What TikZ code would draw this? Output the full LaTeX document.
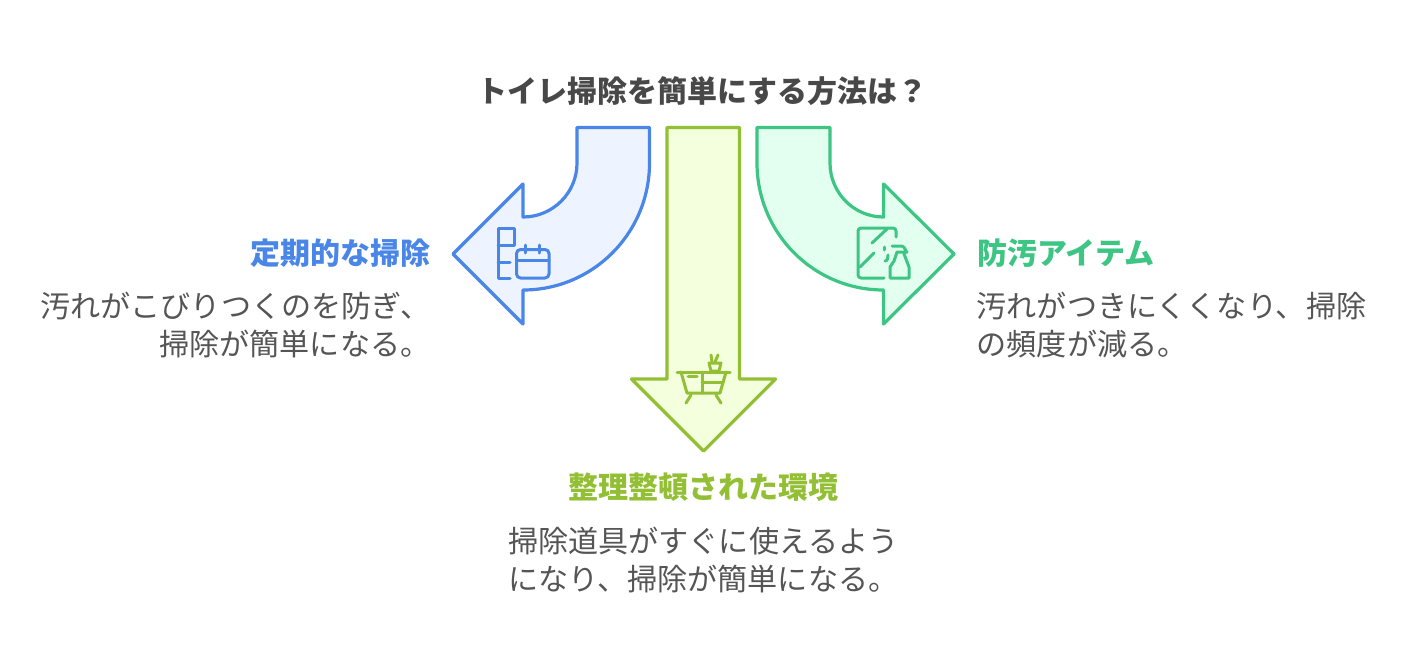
\documentclass[tikz,border=0pt]{standalone}
\usepackage{fontspec}
\setmainfont{Noto Sans CJK JP}
\definecolor{bluec}{HTML}{4A86E8}
\definecolor{bluef}{HTML}{EDF3FF}
\definecolor{limec}{HTML}{93BF35}
\definecolor{limef}{HTML}{F3FFDD}
\definecolor{greenc}{HTML}{3CC583}
\definecolor{greenf}{HTML}{E3FFF0}
\definecolor{titlec}{HTML}{484848}
\definecolor{bodyc}{HTML}{555555}
\tikzset{
	arrowshape/.style={line width=3.2pt, line join=round},
	iconline/.style={line width=3pt, line cap=round, line join=round},
	headtext/.style={font=\fontsize{30}{38}\selectfont\bfseries, inner sep=0pt},
	bodytext/.style={font=\fontsize{30.1}{38}\selectfont, text=bodyc, inner sep=0pt}
}
\begin{document}
\begin{tikzpicture}[x=1pt, y=-1pt]
	\useasboundingbox (0,0) rectangle (1407,669);
	% arrows
	\draw[arrowshape, draw=bluec, fill=bluef](577,127.5) -- (649.5,127.5) -- (649.5,163) arc[start angle=0, end angle=90, radius=126.5pt, y radius=-127pt] -- (523,324) -- (453,254) -- (523,184) -- (523,217) arc[start angle=90, end angle=0, radius=54pt, y radius=-54pt] -- cycle;
	\draw[arrowshape, draw=limec, fill=limef](667,127.5) -- (739.5,127.5) -- (739.5,379) -- (775.5,379) -- (703.5,451) -- (631.5,379) -- (667,379) -- cycle;
	\draw[arrowshape, draw=greenc, fill=greenf](830,127.5) -- (757,127.5) -- (757,163) arc[start angle=180, end angle=90, radius=126.5pt, y radius=-127pt] -- (883.5,324) -- (954,254) -- (883.5,184) -- (883.5,217) arc[start angle=90, end angle=180, radius=53.5pt, y radius=-54pt] -- cycle;
	% blue icon
	\draw[iconline, draw=bluec](498,245) -- (514,245) -- (514,228) -- (498,228) -- (498,278) -- (510,278);
	\draw[iconline, draw=bluec](498,262) -- (510,262);
	\draw[iconline, draw=bluec, rounded corners=4pt](516.5,249.5) rectangle (549,278);
	\draw[iconline, draw=bluec](516.5,260) -- (549,260);
	\draw[iconline, draw=bluec](525,245) -- (525,253);
	\draw[iconline, draw=bluec](539,245) -- (539,253);
	% lime icon
	\draw[iconline, draw=limec](677,372) -- (730,372);
	\draw[iconline, draw=limec](681,372) -- (687,393) -- (720,393) -- (726,372);
	\draw[iconline, draw=limec](702,372) -- (702,393);
	\draw[iconline, draw=limec](702,382) -- (723,382);
	\draw[iconline, draw=limec](688,376) -- (697,376);
	\draw[iconline, draw=limec](691,395) -- (686,403);
	\draw[iconline, draw=limec](716,395) -- (721,403);
	\draw[iconline, draw=limec](709,363) -- (721,363) -- (719,371) -- (711,371) -- cycle;
	\draw[iconline, draw=limec](711,355) -- (712,362);
	\draw[iconline, draw=limec](718,355) -- (715,362);
	% green icon
	\draw[iconline, draw=greenc, rounded corners=3pt](896,237) -- (896,228) -- (858,228) -- (858,278) -- (884,278);
	\draw[iconline, draw=greenc](887,229) -- (872,243);
	\draw[iconline, draw=greenc](874,253) -- (860,267);
	\draw[iconline, draw=greenc](884,247) -- (884,250);
	\draw[iconline, draw=greenc](885,261) to[out=0, in=-90] (888,255);
	\draw[iconline, draw=greenc](892,246) -- (902,246) to[out=0, in=-90] (907,252) -- (897,252) -- (894,261) -- (890,267) -- (890,278) -- (909,278) -- (909,267) -- (904,254);
	% texts
	\node[headtext, text=titlec, anchor=center](title) at (702.5,91){トイレ掃除を簡単にする方法は？};
	\node[headtext, text=bluec, anchor=east](bluehead) at (431,253){定期的な掃除};
	\node[bodytext, anchor=north east, align=right](bluebody) at (430.5,292){汚れがこびりつくのを防ぎ、\\掃除が簡単になる。};
	\node[headtext, text=greenc, anchor=west](greenhead) at (977,253){防汚アイテム};
	\node[bodytext, anchor=north west, align=left](greenbody) at (976.5,292){汚れがつきにくくなり、掃除\\の頻度が減る。};
	\node[headtext, text=limec, anchor=center](limehead) at (703.5,487){整理整頓された環境};
	\node[bodytext, anchor=north west, align=left](limebody) at (508,527){掃除道具がすぐに使えるよう\\になり、掃除が簡単になる。};
\end{tikzpicture}
\end{document}
